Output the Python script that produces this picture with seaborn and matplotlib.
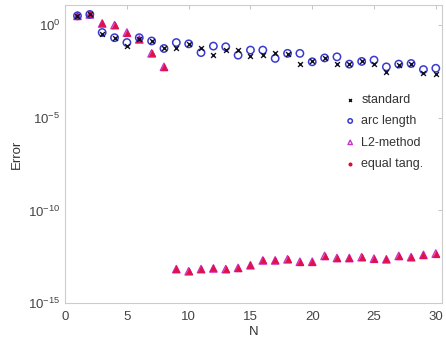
import numpy as np
import pandas as pd
import matplotlib
matplotlib.use('Agg')
import matplotlib.pyplot as plt
import seaborn as sns

# values (error vs N, log scale)
n_vals = list(range(1, 31))
standard = [3.2, 3.8, 0.32, 0.21, 0.074, 0.19, 0.14, 0.055, 0.055, 0.098,
            0.055, 0.024, 0.048, 0.045, 0.022, 0.024, 0.030, 0.028, 0.0085, 0.011,
            0.016, 0.0085, 0.0076, 0.011, 0.0085, 0.0030, 0.0071, 0.0076, 0.0025, 0.0022]
arc_length = [3.2, 3.8, 0.40, 0.21, 0.115, 0.21, 0.14, 0.055, 0.115, 0.098,
              0.033, 0.074, 0.068, 0.024, 0.045, 0.045, 0.016, 0.030, 0.030, 0.0105,
              0.017, 0.0195, 0.0079, 0.011, 0.013, 0.0056, 0.0079, 0.0085, 0.0040, 0.0047]
l2_method = [3.2, 3.8, 1.23, 1.0, 0.40, 0.17, 0.030, 0.0056, 6.8e-14, 5.2e-14,
             6.8e-14, 7.4e-14, 6.8e-14, 7.9e-14, 1.1e-13, 2.0e-13, 2.0e-13, 2.3e-13, 1.7e-13, 1.7e-13,
             3.5e-13, 2.7e-13, 2.7e-13, 3.0e-13, 2.5e-13, 2.3e-13, 3.5e-13, 3.0e-13, 4.0e-13, 4.7e-13]
equal_tang = list(l2_method)

x_ticks = [0, 5, 10, 15, 20, 25, 30]
y_ticks = [1e0, 1e-5, 1e-10, 1e-15]
y_labels = ['$10^{0}$', '$10^{-5}$', '$10^{-10}$', '$10^{-15}$']

sns.set_style('white')
plt.rcParams['font.family'] = ['Liberation Sans', 'DejaVu Sans']
plt.rcParams['mathtext.fontset'] = 'custom'
plt.rcParams['mathtext.rm'] = 'Liberation Sans'
plt.rcParams['mathtext.it'] = 'Liberation Sans'

fig = plt.figure(figsize=(4.46, 3.44), dpi=100)
ax = fig.add_axes([0.146, 0.119, 0.845, 0.866])

sns.scatterplot(x=n_vals, y=l2_method, ax=ax, marker='^', s=28,
                facecolor='none', edgecolor='#cc33cc', linewidth=1.0, label='L2-method')
sns.scatterplot(x=n_vals, y=equal_tang, ax=ax, marker='^', s=22,
                color='#e0104a', edgecolor='#e0104a', linewidth=0.5, label='_nolegend_')
ax.scatter([], [], marker='o', s=10, color='#d0103a', label='equal tang.')
sns.scatterplot(x=n_vals, y=arc_length, ax=ax, marker='o', s=28,
                facecolor='none', edgecolor='#3a3ad0', linewidth=1.1, label='arc length')
sns.scatterplot(x=n_vals, y=standard, ax=ax, marker='x', s=12,
                color='#111122', linewidth=1.0, label='standard')

ax.set_yscale('log')
ax.set_xlim(0, 30.5)
ax.set_ylim(1e-15, 12)
ax.set_xticks(x_ticks)
ax.set_yticks(y_ticks)
ax.set_yticklabels(y_labels)
ax.minorticks_off()
ax.tick_params(direction='in', top=True, right=True, length=3, width=0.6,
               color='#bbbbbb', labelsize=9.5, labelcolor='#444444')
ax.tick_params(axis='x', pad=6)
for sp in ax.spines.values():
    sp.set_color('#cccccc')
    sp.set_linewidth(0.8)
ax.set_xlabel('N', fontsize=9.5, color='#333333', labelpad=2)
ax.set_ylabel('Error', fontsize=9.5, color='#333333', labelpad=4)

handles, labels = ax.get_legend_handles_labels()
order = ['standard', 'arc length', 'L2-method', 'equal tang.']
hmap = dict(zip(labels, handles))
leg = ax.legend([hmap[k] for k in order], order, loc='upper left',
                bbox_to_anchor=(0.71, 0.74), frameon=False, fontsize=9,
                handletextpad=0.4, labelspacing=0.75, markerscale=0.6,
                handlelength=1.0)
for t in leg.get_texts():
    t.set_color('#333333')

fig.savefig('out.png', dpi=100)
